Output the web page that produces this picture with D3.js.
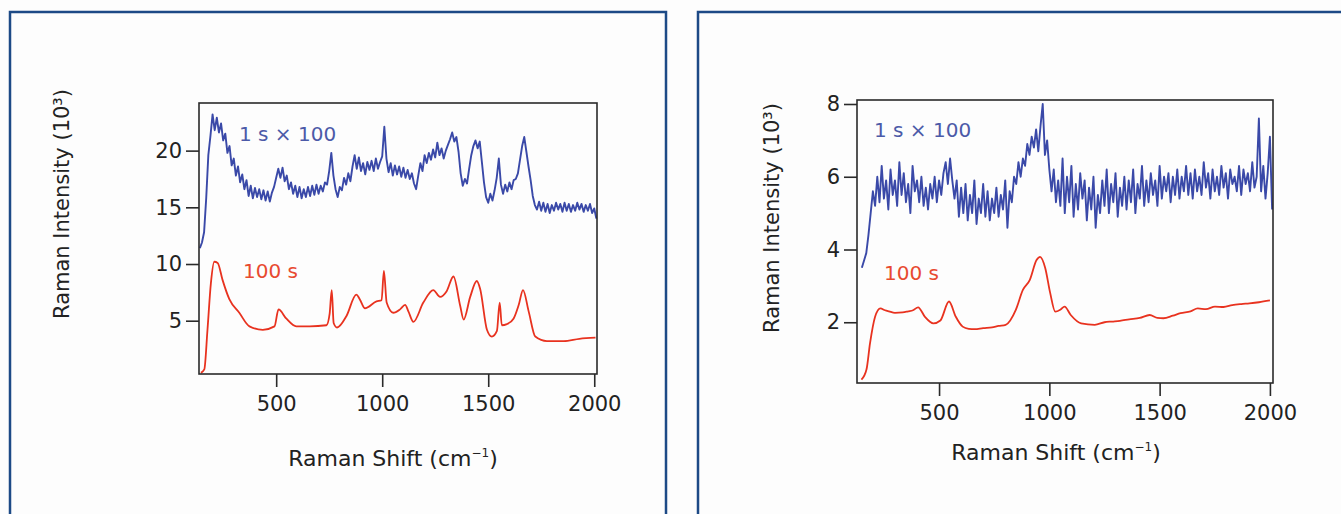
<!DOCTYPE html>
<html>
<head>
<meta charset="utf-8">
<script src="https://cdn.jsdelivr.net/npm/d3@7"></script>
<style>
  body { margin: 0; background: #fdfdfd; }
  svg { display: block; font-family: "DejaVu Sans", sans-serif; }
</style>
</head>
<body>
<svg id="chart"></svg>
<script>
const width = 1341;
const height = 514;

// left panel: blue = 1 s x 100, sampled every 10 cm-1 from 140
const leftBlueStart = 140;
const leftBlue = [
  11.4, 11.9, 12.8, 15.8, 19.6, 21.3, 23.2, 21.8, 22.9, 21.6,
  22.4, 20.9, 21.5, 19.8, 20.4, 18.7, 19.3, 17.8, 18.6, 17.2,
  17.9, 16.6, 17.4, 16.0, 16.9, 15.8, 16.7, 15.9, 16.6, 15.7,
  16.5, 15.6, 16.4, 15.5, 16.3, 16.8, 17.6, 18.4, 17.6, 18.5,
  17.3, 17.8, 16.6, 17.2, 16.2, 16.9, 15.9, 16.8, 15.8, 16.6,
  15.9, 16.8, 16.0, 16.9, 16.1, 17.0, 16.2, 16.9, 16.4, 17.2,
  17.0, 18.2, 19.8, 17.8, 16.6, 15.9, 16.8, 16.5, 17.6, 17.0,
  18.0, 17.3, 18.6, 19.6, 18.4, 19.4, 18.2, 18.9, 17.9, 19.0,
  18.3, 19.1, 18.2, 19.3, 18.4, 19.0, 19.5, 22.1, 19.3, 18.1,
  18.9, 17.8, 18.7, 17.9, 18.6, 17.7, 18.5, 17.6, 18.3, 17.5,
  18.0, 17.1, 16.6, 17.8, 18.9, 18.2, 19.6, 18.9, 19.8, 19.2,
  20.1, 19.4, 20.7, 19.6, 20.2, 19.3, 20.0, 20.5, 21.0, 21.6,
  20.8, 21.2, 19.9, 18.0, 16.9, 17.5, 17.1, 18.4, 19.6, 20.4,
  20.9, 20.2, 20.8, 19.0, 17.2, 15.9, 15.4, 16.2, 15.6, 16.5,
  17.6, 19.3, 17.0, 16.2, 17.0, 16.4, 17.2, 16.6, 17.4, 17.5,
  18.0, 19.2, 20.4, 21.2, 19.9, 18.6, 17.4, 16.0, 15.2, 14.8,
  15.5, 14.7, 15.4, 14.6, 15.3, 14.5, 15.2, 14.7, 15.4, 14.8,
  15.3, 14.6, 15.4, 14.7, 15.3, 14.6, 15.2, 14.7, 15.4, 14.8,
  15.3, 14.6, 15.2, 14.7, 15.3, 14.5, 14.9, 14.0
];

// left panel: red = 100 s
const leftRedX = [145, 161, 176, 192, 208, 224, 247, 279, 326, 374, 437, 492, 511, 547, 595,
  658, 737, 752, 762, 771, 787, 831, 878, 894, 918, 973, 997, 1008, 1021, 1052,
  1084, 1108, 1124, 1147, 1194, 1241, 1273, 1304, 1336, 1368, 1384, 1415, 1446, 1462, 1494,
  1517, 1541, 1554, 1564, 1588, 1620, 1644, 1664, 1691, 1722, 1777, 1856, 1930, 2006];
const leftRedY = [0.4, 0.7, 4.2, 8.3, 10.2, 10.1, 8.6, 6.9, 5.7, 4.5, 4.2, 4.5, 6.0, 5.2, 4.5,
  4.5, 4.6, 5.6, 7.7, 4.8, 4.4, 5.4, 7.3, 6.9, 6.1, 6.7, 6.8, 9.4, 6.6, 5.7,
  6.0, 6.4, 5.8, 4.9, 6.6, 7.7, 7.1, 7.6, 8.9, 6.3, 5.1, 7.1, 8.5, 7.8, 4.2,
  3.6, 4.1, 6.6, 4.6, 4.7, 5.2, 6.4, 7.7, 5.8, 3.6, 3.2, 3.2, 3.4, 3.5];

// right panel: blue = 1 s x 100, sampled every 10 cm-1 from 150
const rightBlueStart = 150;
const rightBlue = [
  3.5, 3.7, 3.9, 4.4, 5.0, 5.6, 5.2, 6.0, 5.3, 6.3,
  5.4, 5.9, 5.1, 6.2, 5.5, 5.9, 5.2, 6.4, 5.5, 6.1,
  5.3, 5.8, 5.0, 6.3, 5.6, 5.9, 5.3, 6.0, 5.2, 5.7,
  5.1, 5.8, 5.4, 6.0, 5.3, 5.9, 5.5, 6.1, 6.4, 5.8,
  6.5, 5.9, 5.4, 5.9, 4.9, 5.7, 5.0, 5.8, 4.8, 5.5,
  5.0, 5.9, 4.7, 5.4, 5.0, 5.8, 4.9, 5.6, 4.8, 5.4,
  5.0, 5.7, 4.9, 5.5, 5.1, 5.9, 4.6, 5.6, 5.3, 6.0,
  5.8, 6.4, 6.0, 6.5, 6.3, 6.9, 6.6, 7.1, 6.8, 7.3,
  6.7, 7.4, 8.0, 6.6, 7.0, 6.2, 5.6, 6.2, 5.3, 5.9,
  5.2, 6.5, 5.0, 6.0, 5.3, 6.3, 4.9, 5.8, 5.1, 6.1,
  5.4, 5.9, 4.8, 5.7, 5.1, 6.0, 4.6, 5.5, 5.0, 5.9,
  5.2, 6.2, 5.0, 5.8, 5.3, 6.1, 4.9, 5.7, 5.2, 6.0,
  5.1, 5.9, 5.3, 6.2, 5.0, 5.8, 5.4, 6.3, 5.2, 5.9,
  5.3, 6.1, 5.5, 5.9, 5.2, 6.3, 5.4, 6.0, 5.6, 6.1,
  5.3, 6.0, 5.5, 6.2, 5.4, 6.0, 5.6, 6.3, 5.5, 6.1,
  5.4, 6.2, 5.6, 6.0, 5.5, 6.4, 5.7, 6.1, 5.4, 6.2,
  5.6, 6.0, 5.5, 6.3, 5.7, 6.1, 5.4, 6.2, 5.8, 6.0,
  5.6, 6.3, 5.5, 6.2, 5.8, 6.1, 5.6, 6.4, 5.7, 6.0,
  7.6, 5.6, 6.3, 5.4, 6.1, 7.1, 5.1
];

// right panel: red = 100 s
const rightRedX = [148, 171, 187, 210, 234, 255, 273, 300, 335, 360, 382, 405, 436, 474, 506,
  545, 576, 607, 635, 662, 700, 740, 770, 802, 848, 880, 911, 942, 958, 981,
  1004, 1027, 1051, 1069, 1097, 1144, 1206, 1250, 1284, 1320, 1362, 1410, 1455, 1490, 1517,
  1560, 1595, 1640, 1673, 1710, 1751, 1790, 1829, 1870, 1907, 1950, 2000];
const rightRedY = [0.42, 0.7, 1.42, 2.15, 2.38, 2.33, 2.3, 2.26, 2.27, 2.3, 2.33, 2.41, 2.15, 1.97, 2.05,
  2.57, 2.15, 1.88, 1.82, 1.81, 1.84, 1.86, 1.9, 1.93, 2.34, 2.89, 3.16, 3.71, 3.8, 3.5,
  2.8, 2.29, 2.35, 2.43, 2.2, 1.97, 1.93, 2.0, 2.02, 2.04, 2.08, 2.12, 2.2, 2.12, 2.11,
  2.18, 2.25, 2.3, 2.38, 2.36, 2.43, 2.42, 2.47, 2.5, 2.52, 2.55, 2.6];

const xTicks = [500, 1000, 1500, 2000];
const leftYTicks = [5, 10, 15, 20];
const rightYTicks = [2, 4, 6, 8];

const blueLine = '#3a49a8';
const redLine = '#e8321f';
const blueText = '#4c5aa8';
const redText = '#e84a30';
const frame = '#1d4a86';

const svg = d3.select('#chart')
    .attr('width', width)
    .attr('height', height);

svg.append('rect')
    .attr('width', width).attr('height', height)
    .attr('fill', '#fdfdfd');

// panel frames
svg.append('rect')
    .attr('x', 10).attr('y', 12).attr('width', 656).attr('height', 540)
    .attr('fill', 'none').attr('stroke', frame).attr('stroke-width', 2.5);
svg.append('rect')
    .attr('x', 698).attr('y', 12).attr('width', 700).attr('height', 540)
    .attr('fill', 'none').attr('stroke', frame).attr('stroke-width', 2.5);

function drawPanel(p) {
    const x = d3.scaleLinear().domain(p.xDomain).range([p.left, p.right]);
    const y = d3.scaleLinear().domain(p.yDomain).range([p.bottom, p.top]);

    const g = svg.append('g');

    const blueLineGen = d3.line()
        .x(d => x(d[0]))
        .y(d => y(d[1]));
    const redLineGen = d3.line()
        .curve(d3.curveMonotoneX)
        .x(d => x(d[0]))
        .y(d => y(d[1]));

    const bluePts = p.blue.map((v, i) => [p.blueStart + i * 10, v]);
    const redPts = p.redX.map((v, i) => [v, p.redY[i]]);

    g.append('path')
        .datum(redPts)
        .attr('d', redLineGen)
        .attr('fill', 'none')
        .attr('stroke', redLine)
        .attr('stroke-width', 1.8)
        .attr('stroke-linejoin', 'round');

    g.append('path')
        .datum(bluePts)
        .attr('d', blueLineGen)
        .attr('fill', 'none')
        .attr('stroke', blueLine)
        .attr('stroke-width', 1.9)
        .attr('stroke-linejoin', 'round');

    // frame
    g.append('rect')
        .attr('x', p.left).attr('y', p.top)
        .attr('width', p.right - p.left).attr('height', p.bottom - p.top)
        .attr('fill', 'none').attr('stroke', '#2a2a2a').attr('stroke-width', 1.6);

    const xAxis = d3.axisBottom(x).tickValues(xTicks).tickSize(13)
        .tickPadding(9).tickFormat(d3.format('d'));
    const yAxis = d3.axisLeft(y).tickValues(p.yTicks).tickSize(13).tickPadding(4);

    const gx = g.append('g')
        .attr('transform', 'translate(0,' + p.bottom + ')')
        .call(xAxis);
    const gy = g.append('g')
        .attr('transform', 'translate(' + p.left + ',0)')
        .call(yAxis);

    [gx, gy].forEach(a => {
        a.select('.domain').remove();
        a.selectAll('line').attr('stroke', '#2a2a2a').attr('stroke-width', 1.6);
        a.selectAll('text')
            .attr('fill', '#222')
            .style('font-size', '21px')
            .style('font-family', '"DejaVu Sans", sans-serif');
    });

    // axis titles
    const xt = g.append('text')
        .attr('x', p.xLabel[0]).attr('y', p.xLabel[1])
        .attr('text-anchor', 'middle')
        .attr('fill', '#222')
        .style('font-size', '22px');
    xt.append('tspan').text('Raman Shift (cm');
    xt.append('tspan').attr('dy', -9).style('font-size', '12px').text('−1');
    xt.append('tspan').attr('dy', 9).text(')');

    g.append('text')
        .attr('transform', 'translate(' + p.yLabel[0] + ',' + p.yLabel[1] + ') rotate(-90)')
        .attr('text-anchor', 'middle')
        .attr('fill', '#222')
        .style('font-size', '21px')
        .text('Raman Intensity (10³)');

    // series labels
    g.append('text')
        .attr('x', p.blueLabel[0]).attr('y', p.blueLabel[1])
        .attr('fill', blueText)
        .style('font-size', '20px')
        .text('1 s × 100');
    g.append('text')
        .attr('x', p.redLabel[0]).attr('y', p.redLabel[1])
        .attr('fill', redText)
        .style('font-size', '20px')
        .text('100 s');
}

drawPanel({
    left: 199, right: 597, top: 103, bottom: 374,
    xDomain: [136, 2013], yDomain: [0.3, 24.2],
    yTicks: leftYTicks,
    blue: leftBlue, blueStart: leftBlueStart,
    redX: leftRedX, redY: leftRedY,
    xLabel: [393, 466], yLabel: [69, 204],
    blueLabel: [239, 141], redLabel: [243, 278]
});

drawPanel({
    left: 857, right: 1273, top: 100, bottom: 383,
    xDomain: [128, 2014], yDomain: [0.33, 8.11],
    yTicks: rightYTicks,
    blue: rightBlue, blueStart: rightBlueStart,
    redX: rightRedX, redY: rightRedY,
    xLabel: [1056, 460], yLabel: [779, 218],
    blueLabel: [874, 137], redLabel: [884, 280]
});
</script>
</body>
</html>
